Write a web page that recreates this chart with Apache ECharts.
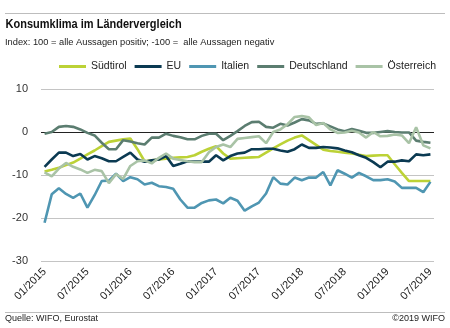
<!DOCTYPE html>
<html>
<head>
<meta charset="utf-8">
<script src="https://cdn.jsdelivr.net/npm/echarts@6/dist/echarts.min.js"></script>
<style>
  html, body { margin: 0; padding: 0; background: #fff; }
  #chart { width: 450px; height: 328px; }
</style>
</head>
<body>
<div id="chart"></div>
<script>
// Monthly consumer confidence, 01/2015 – 07/2019
const months = [];
for (let y = 2015; y <= 2019; y++) {
  for (let m = 1; m <= 12; m++) {
    if (y === 2019 && m > 7) break;
    months.push((m < 10 ? '0' + m : '' + m) + '/' + y);
  }
}

const suedtirol = [-9.2, -8.8, -8.3, -7.7, -7.1, -6.2, -5.2, -4.3, -3.3, -2.3, -2.0, -1.7, -1.5,
  -4.0, -6.8, -6.6, -6.4, -6.2, -6.0, -5.9, -5.8, -5.4, -4.6, -3.9, -3.3,
  -5.0, -6.2, -6.1, -6.0, -5.9, -5.8, -4.8, -3.8, -2.9, -2.0, -1.3, -0.8,
  -1.9, -3.0, -4.1, -4.4, -4.6, -4.8, -5.0, -5.3, -5.6, -5.5, -5.4, -5.4,
  -7.5, -9.5, -11.4, -11.4, -11.4, -11.4];

const eu = [-8.1, -6.4, -4.8, -4.8, -5.6, -5.1, -6.4, -5.6, -6.1, -6.8, -6.8, -5.8, -4.8,
  -6.4, -6.9, -6.6, -6.4, -5.6, -7.9, -7.4, -6.8, -6.9, -6.9, -6.9, -5.4,
  -6.6, -5.6, -5.0, -4.8, -4.0, -4.0, -3.9, -3.9, -4.3, -4.6, -4.0, -2.9,
  -3.7, -3.7, -3.5, -3.6, -3.8, -4.3, -4.7, -5.4, -6.0, -7.0, -8.2, -6.9,
  -6.9, -6.6, -6.8, -5.2, -5.4, -5.2];

const italien = [-21.1, -14.5, -13.1, -14.4, -15.3, -14.3, -17.6, -14.7, -11.4, -11.3, -9.7, -11.4, -10.5,
  -11.0, -12.2, -11.8, -12.6, -12.8, -13.2, -15.7, -17.6, -17.6, -16.5, -15.9, -15.7,
  -16.6, -15.3, -16.0, -18.3, -17.3, -16.4, -14.3, -10.5, -12.0, -12.2, -10.6, -11.2,
  -10.6, -10.6, -9.3, -12.4, -8.9, -9.7, -10.6, -9.5, -10.3, -11.2, -11.2, -11.0,
  -11.5, -13.0, -13.0, -13.0, -14.0, -11.6];

const deutschland = [-0.4, 0.0, 1.2, 1.4, 1.2, 0.6, -0.2, -0.8, -2.5, -4.0, -4.0, -1.9, -2.2,
  -2.6, -2.9, -1.3, -1.3, -0.4, -0.9, -1.2, -1.7, -1.7, -0.9, -0.4, -0.4,
  -1.9, -0.9, 0.2, 1.4, 2.3, 2.4, 1.2, 1.0, 1.9, 1.5, 2.2, 3.0,
  2.7, 1.9, 2.0, 1.3, 0.6, 0.2, 0.7, 0.3, -0.2, -0.2, 0.0, 0.2,
  0.0, -0.1, -0.1, -2.0, -2.3, -2.5];

const oesterreich = [-9.4, -10.3, -8.5, -7.2, -8.1, -8.7, -9.5, -8.8, -9.1, -11.9, -9.8, -10.9, -7.9,
  -6.8, -6.6, -7.3, -6.0, -5.0, -6.2, -6.5, -6.8, -7.0, -7.0, -4.7, -3.5,
  -2.9, -3.5, -1.6, -1.4, -1.2, -1.0, -2.6, 0.0, 0.6, 1.8, 3.5, 3.7,
  3.4, 1.6, 2.1, 0.6, -0.2, -0.1, 0.3, -0.1, -1.3, 0.0, -1.0, -0.9,
  -0.6, -0.8, -2.6, 1.1, -3.1, -3.8];

const yTicks = [-30, -20, -10, 0, 10];

const names = ['Südtirol', 'EU', 'Italien', 'Deutschland', 'Österreich'];
const colors = ['#bcd236', '#0b3a52', '#4f96b2', '#5b7d70', '#a9c3a6'];
const values = [suedtirol, eu, italien, deutschland, oesterreich];

const FONT = '"Liberation Sans", Arial, sans-serif';
const chart = echarts.init(document.getElementById('chart'), null, { renderer: 'canvas' });

chart.setOption({
  animation: false,
  color: colors,
  textStyle: { fontFamily: FONT },
  grid: { left: 41, right: 16, top: 89, bottom: 67, containLabel: false },
  legend: {
    top: 61,
    left: 59,
    padding: 0,
    itemWidth: 27,
    itemHeight: 3,
    itemGap: 8,
    icon: 'rect',
    textStyle: { fontFamily: FONT, fontSize: 10.5, color: '#222' },
    data: names
  },
  xAxis: {
    type: 'category',
    data: months,
    boundaryGap: true,
    axisLine: { show: false },
    axisTick: { show: false },
    splitLine: { show: false },
    axisLabel: {
      interval: 5,
      rotate: 45,
      margin: 9,
      fontFamily: FONT,
      fontSize: 11,
      color: '#222'
    }
  },
  yAxis: {
    type: 'value',
    min: yTicks[0],
    max: yTicks[yTicks.length - 1],
    interval: 10,
    axisLine: { show: false },
    axisTick: { show: false },
    axisLabel: {
      margin: 13,
      fontFamily: FONT,
      fontSize: 11,
      color: '#333',
      formatter: v => (v < 0 ? '-' + Math.abs(v) : '' + v)
    },
    splitLine: {
      lineStyle: { color: ['#c4c4c4', '#c4c4c4', '#c4c4c4', '#222222', '#c4c4c4'], width: 1 }
    }
  },
  series: names.map((n, i) => ({
    name: n,
    type: 'line',
    data: values[i],
    symbol: 'none',
    lineStyle: { width: 2.6, color: colors[i] },
    itemStyle: { color: colors[i] },
    z: 2 + i
  })),
  graphic: [
    { type: 'line', shape: { x1: 5, y1: 13.5, x2: 445, y2: 13.5 }, style: { stroke: '#bdbdbd', lineWidth: 1 } },
    { type: 'text', x: 5, y: 18, scaleX: 0.88, originX: 5, style: { text: 'Konsumklima im Ländervergleich', font: 'bold 12.5px ' + FONT, fill: '#111' } },
    { type: 'text', x: 5, y: 37.5, style: { text: 'Index: 100 = alle Aussagen positiv; -100 =  alle Aussagen negativ', font: '9.3px ' + FONT, fill: '#222' } },
    { type: 'line', shape: { x1: 5, y1: 312.5, x2: 445, y2: 312.5 }, style: { stroke: '#bdbdbd', lineWidth: 1 } },
    { type: 'text', x: 5, y: 314.5, style: { text: 'Quelle: WIFO, Eurostat', font: '9px ' + FONT, fill: '#222' } },
    { type: 'text', x: 445, y: 314.5, style: { text: '©2019 WIFO', font: '9px ' + FONT, fill: '#222', align: 'right' } }
  ]
});
</script>
</body>
</html>
